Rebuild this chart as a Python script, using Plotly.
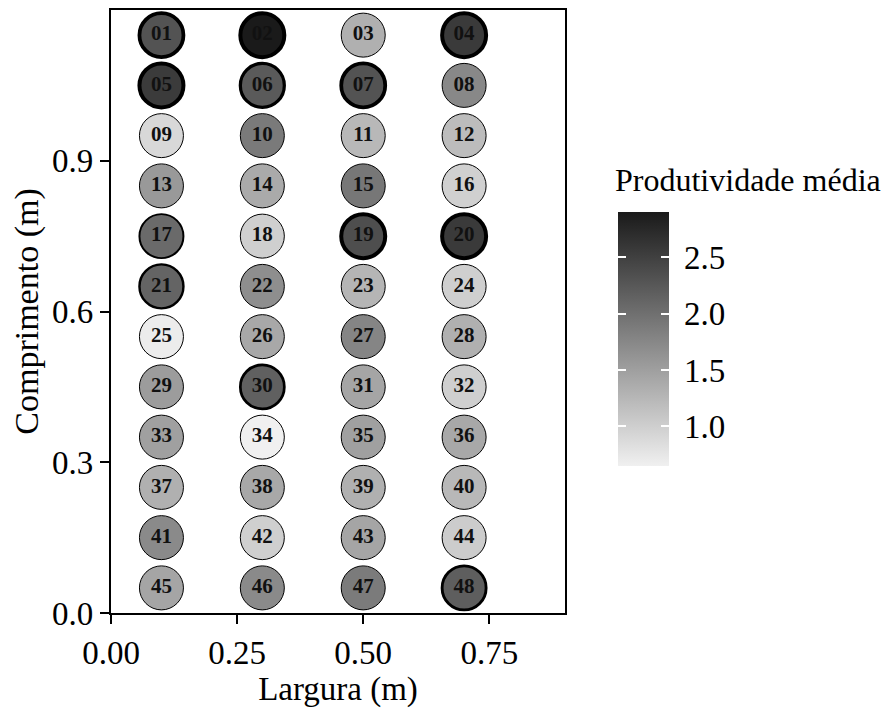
import numpy as np
import plotly.graph_objects as go

# Data: 48 plots laid out in 12 rows x 4 columns
largura_cols = [0.1, 0.3, 0.5, 0.7]
comprimento_rows = [1.15, 1.05, 0.95, 0.85, 0.75, 0.65, 0.55, 0.45, 0.35, 0.25, 0.15, 0.05]
parcela = [f"{i:02d}" for i in range(1, 49)]
produtividade = [
    2.30, 2.90, 1.32, 2.56,
    2.55, 2.23, 2.30, 1.74,
    0.90, 1.89, 1.24, 1.20,
    1.56, 1.39, 1.92, 0.99,
    2.06, 1.00, 2.35, 2.56,
    2.12, 1.68, 1.27, 1.00,
    0.69, 1.41, 1.77, 1.32,
    1.53, 2.16, 1.44, 1.00,
    1.49, 0.65, 1.49, 1.41,
    1.32, 1.41, 1.32, 1.24,
    1.72, 1.00, 1.44, 1.03,
    1.44, 1.72, 1.88, 2.18,
]
x_ticks = [0.0, 0.25, 0.5, 0.75]
x_ticklabels = ["0.00", "0.25", "0.50", "0.75"]
y_ticks = [0.0, 0.3, 0.6, 0.9]
y_ticklabels = ["0.0", "0.3", "0.6", "0.9"]
cbar_ticks = [1.0, 1.5, 2.0, 2.5]
cbar_ticklabels = ["1.0", "1.5", "2.0", "2.5"]

xs = [largura_cols[i % 4] for i in range(48)]
ys = [comprimento_rows[i // 4] for i in range(48)]
vals = np.array(produtividade)
line_w = 1.0 + 3.0 * np.clip((vals - 1.93) / 0.4, 0, 1)

FONT = "Liberation Serif, Times New Roman, serif"
W, H = 895, 708
OFF = 8  # page body margin offsets the figure by 8 px
L, R, T, B = 111 - OFF, 330 + OFF, 10 - OFF, 95 + OFF
plot_w = W - L - R
plot_h = H - T - B
right_px = L + plot_w
bottom_px = T + plot_h
CSCALE = [[0, "#F0F0F0"], [1, "#1A1A1A"]]
cmin, cmax = min(produtividade), max(produtividade)

BAR_LEFT, BAR_W, BAR_TOP, BAR_BOT = 618 - OFF, 51, 212 - OFF, 466 - OFF


def cb(left, thick, **kw):
    return dict(
        x=1.0 + (left - right_px) / plot_w, xanchor="left", xref="paper", xpad=0,
        y=(bottom_px - (BAR_TOP + BAR_BOT) / 2) / plot_h, yanchor="middle",
        lenmode="pixels", len=BAR_BOT - BAR_TOP, ypad=0,
        thickness=thick, thicknessmode="pixels", outlinewidth=0,
        tickvals=cbar_ticks, **kw)


fig = go.Figure()
# main markers + colorbar carrying the labels
fig.add_trace(go.Scatter(
    x=xs, y=ys, mode="markers+text", text=parcela,
    textposition="middle center",
    textfont=dict(family=FONT, size=21, color="#111111", weight="bold"),
    marker=dict(
        size=44, color=produtividade, cmin=cmin, cmax=cmax, colorscale=CSCALE,
        line=dict(color="black", width=line_w),
        colorbar=cb(BAR_LEFT, BAR_W, ticktext=cbar_ticklabels, ticks="outside",
                    ticklen=9, tickcolor="rgba(0,0,0,0)",
                    tickfont=dict(family=FONT, size=33, color="black")),
    ),
    showlegend=False, hoverinfo="skip",
))
# overlay colorbar: white inner ticks on the right edge
fig.add_trace(go.Scatter(
    x=xs, y=ys, mode="markers",
    marker=dict(size=1, opacity=0, color=produtividade, cmin=cmin, cmax=cmax, colorscale=CSCALE,
                colorbar=cb(BAR_LEFT, BAR_W, ticks="inside", ticklen=8, tickcolor="white",
                            tickwidth=1.5, showticklabels=False)),
    showlegend=False, hoverinfo="skip",
))
# overlay colorbar strip: white inner ticks on the left edge
fig.add_trace(go.Scatter(
    x=xs, y=ys, mode="markers",
    marker=dict(size=1, opacity=0, color=produtividade, cmin=cmin, cmax=cmax, colorscale=CSCALE,
                colorbar=cb(BAR_LEFT, 8, ticks="inside", ticklen=8, tickcolor="white",
                            tickwidth=1.5, showticklabels=False)),
    showlegend=False, hoverinfo="skip",
))

fig.add_annotation(
    text="Produtividade média", xref="paper", yref="paper",
    x=1.0 + (BAR_LEFT - 5 - right_px) / plot_w, xanchor="left",
    y=(bottom_px - (180 - OFF)) / plot_h, yanchor="middle", showarrow=False,
    font=dict(family=FONT, size=32, color="black"),
)

axis_common = dict(
    showgrid=False, zeroline=False, showline=True, linecolor="black", linewidth=2.2,
    mirror=True, ticks="outside", ticklen=9, tickwidth=1.5, tickcolor="black",
    tickfont=dict(family=FONT, size=33, color="black"),
)
fig.update_xaxes(range=[0, 0.9], tickvals=x_ticks, ticktext=x_ticklabels,
                 title=dict(text="Largura (m)", font=dict(family=FONT, size=33, color="black"), standoff=4),
                 **axis_common)
fig.update_yaxes(range=[0, 1.2], tickvals=y_ticks, ticktext=y_ticklabels,
                 title=dict(text="Comprimento (m)", font=dict(family=FONT, size=34, color="black"), standoff=6),
                 **axis_common)

fig.update_layout(
    width=W, height=H, margin=dict(l=L, r=R, t=T, b=B, autoexpand=False),
    plot_bgcolor="white", paper_bgcolor="white",
    font=dict(family=FONT, color="black"),
)
fig.write_html("out.html")
